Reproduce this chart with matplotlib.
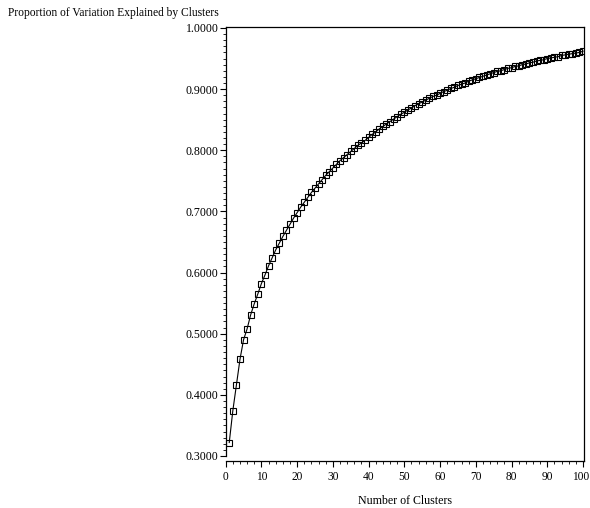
import matplotlib
matplotlib.use('Agg')
import matplotlib.pyplot as plt
import matplotlib.transforms as mtransforms
from matplotlib.ticker import MultipleLocator, FormatStrFormatter

plt.rcParams['font.family'] = ['Liberation Serif', 'DejaVu Serif']

# number of clusters vs proportion of variation explained
n_clusters = list(range(1, 101))
prop_explained = [
    0.322, 0.374, 0.416, 0.458, 0.490, 0.508, 0.531, 0.549, 0.565, 0.582,
    0.596, 0.611, 0.624, 0.637, 0.648, 0.659, 0.669, 0.679, 0.689, 0.698,
    0.707, 0.715, 0.723, 0.731, 0.738, 0.745, 0.752, 0.759, 0.765, 0.771,
    0.777, 0.783, 0.788, 0.793, 0.798, 0.803, 0.808, 0.812, 0.816, 0.821,
    0.826, 0.830, 0.835, 0.839, 0.843, 0.847, 0.851, 0.855, 0.859, 0.862,
    0.866, 0.869, 0.873, 0.876, 0.879, 0.882, 0.885, 0.888, 0.890, 0.893,
    0.896, 0.898, 0.901, 0.903, 0.906, 0.908, 0.910, 0.913, 0.915, 0.917,
    0.919, 0.921, 0.923, 0.925, 0.927, 0.929, 0.930, 0.932, 0.934, 0.935,
    0.937, 0.938, 0.940, 0.941, 0.943, 0.944, 0.946, 0.947, 0.948, 0.950,
    0.951, 0.952, 0.953, 0.955, 0.956, 0.957, 0.958, 0.959, 0.960, 0.962,
]

x_ticks = list(range(0, 101, 10))
y_ticks = [0.3, 0.4, 0.5, 0.6, 0.7, 0.8, 0.9, 1.0]

fig = plt.figure(figsize=(5.9, 5.08), dpi=100)
ax = fig.add_axes([0.3825, 0.0925, 0.6075, 0.8544])

ax.plot(n_clusters, prop_explained, color='black', linewidth=0.8,
        marker='s', markersize=5, markerfacecolor='none',
        markeredgecolor='black', markeredgewidth=0.8)

ax.set_xlim(0, 100.3)
ax.set_ylim(0.2918, 1.0016)
ax.set_xticks(x_ticks)
ax.set_yticks(y_ticks)
ax.xaxis.set_minor_locator(MultipleLocator(2))
ax.yaxis.set_minor_locator(MultipleLocator(0.01))
ax.yaxis.set_major_formatter(FormatStrFormatter('%.4f'))

ax.tick_params(which='major', direction='out', length=4, width=0.8,
               labelsize=8.3)
ax.tick_params(which='minor', direction='out', length=2, width=0.6)
ax.tick_params(axis='x', pad=3)
ax.tick_params(axis='y', pad=1, labelsize=8.6)

# nudge the "100" label a little left so it stays inside the figure
fig.canvas.draw()
last = ax.get_xticklabels()[-1]
last.set_transform(last.get_transform() +
                   mtransforms.ScaledTranslation(-2 / 100, 0, fig.dpi_scale_trans))

for s in ax.spines.values():
    s.set_linewidth(0.9)
ax.spines['left'].set_bounds(0.3, 1.0016)
ax.spines['bottom'].set_bounds(0, 100.3)

ax.set_xlabel('Number of Clusters', fontsize=8.6, labelpad=9)
fig.text(8 / 590, 1 - 13 / 508, 'Proportion of Variation Explained by Clusters',
         fontsize=8.3, ha='left', va='center')

fig.savefig('out.png', dpi=100)
